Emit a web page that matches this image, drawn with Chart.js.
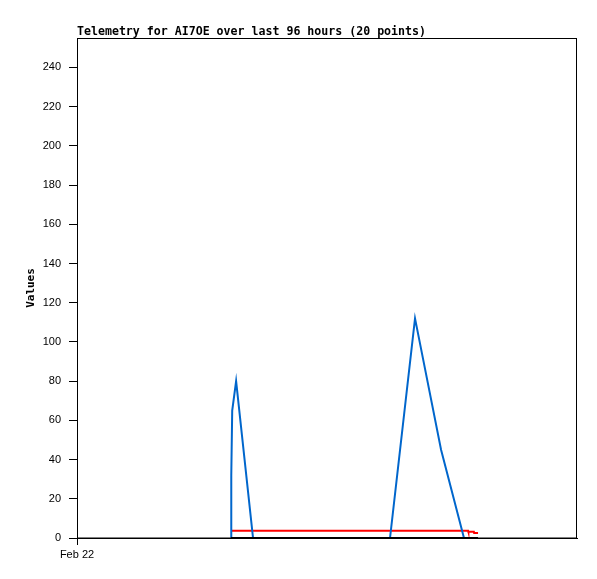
<!DOCTYPE html>
<html>
<head>
<meta charset="utf-8">
<script src="https://cdn.jsdelivr.net/npm/chart.js@4/dist/chart.umd.min.js"></script>
<style>
  html, body { margin: 0; padding: 0; background: #fff; }
  canvas { display: block; }
</style>
</head>
<body>
<canvas id="chart" width="597" height="579"></canvas>
<script>
// hours since Feb 22 00:00 (window is 96 hours)
const hours = [29.57, 29.62, 29.8, 30.55, 33.8, 37, 41, 45, 49, 53, 57, 60.1, 64.9, 69.9, 74.3, 75.1, 75.15, 76.2, 76.25, 77.0];
const blueValues = [0, 32, 65, 80, 0, 0, 0, 0, 0, 0, 0, 0, 112, 45, 0, 0, 0, 0, 0, 0];
const redValues = [3.7, 3.7, 3.7, 3.7, 3.7, 3.7, 3.7, 3.7, 3.7, 3.7, 3.7, 3.7, 3.7, 3.7, 3.7, 3.7, 3.2, 3.2, 2.6, 2.6];
const blackValues = [0, 0, 0, 0, 0, 0, 0, 0, 0, 0, 0, 0, 0, 0, 0, 0, 0, 0, 0, 0];
const yTicks = [0, 20, 40, 60, 80, 100, 120, 140, 160, 180, 200, 220, 240];
const xTicks = [0];
const xTickLabels = ['Feb 22'];
const titleText = 'Telemetry for AI7OE over last 96 hours (20 points)';

const toPoints = vals => vals.map((v, i) => ({ x: hours[i], y: v }));

// title sits at the left edge of the plot area, and the plot gets a full box
const frame = {
    id: 'frame',
    afterDraw(chart) {
        const { ctx, chartArea: a } = chart;
        ctx.save();
        ctx.strokeStyle = '#000';
        ctx.lineWidth = 1;
        ctx.strokeRect(a.left + 0.5, a.top + 0.5, a.right - a.left - 1, a.bottom - a.top - 0.5);
        ctx.fillStyle = '#000';
        ctx.font = 'bold 11.6px "DejaVu Sans Mono"';
        ctx.textBaseline = 'middle';
        ctx.textAlign = 'left';
        ctx.fillText(titleText, a.left, 31.5);
        ctx.restore();
    }
};

const line = (vals, color) => ({
    data: toPoints(vals),
    borderColor: color,
    borderWidth: 2,
    pointRadius: 0,
    tension: 0,
    fill: false
});

new Chart(document.getElementById('chart'), {
    type: 'line',
    data: {
        // first dataset is painted last (on top)
        datasets: [line(blackValues, '#000000'), line(blueValues, '#0066cc'), line(redValues, '#ff0000')]
    },
    options: {
        animation: false,
        responsive: false,
        devicePixelRatio: 1,
        layout: { padding: { left: 0, right: 20, top: 38, bottom: 0 } },
        plugins: { legend: { display: false }, tooltip: { enabled: false } },
        scales: {
            x: {
                type: 'linear',
                min: 0,
                max: 96,
                afterBuildTicks: s => { s.ticks = xTicks.map(v => ({ value: v })); },
                afterFit: s => { s.height = 41; },
                border: { display: true, color: '#000' },
                grid: { drawOnChartArea: false, drawTicks: true, tickLength: 7, color: '#000' },
                ticks: {
                    color: '#000',
                    font: { family: 'Liberation Sans', size: 11 },
                    padding: 3,
                    maxRotation: 0,
                    autoSkip: false,
                    callback: (v) => xTickLabels[xTicks.indexOf(v)] || ''
                }
            },
            y: {
                min: 0,
                max: 255,
                afterBuildTicks: s => { s.ticks = yTicks.map(v => ({ value: v })); },
                afterFit: s => { s.width = 77; },
                border: { display: true, color: '#000' },
                grid: { drawOnChartArea: false, drawTicks: true, tickLength: 8, color: '#000' },
                ticks: {
                    color: '#000',
                    font: { family: 'Liberation Sans', size: 11 },
                    padding: 8
                },
                title: {
                    display: true,
                    text: 'Values',
                    color: '#000',
                    font: { family: 'DejaVu Sans Mono', size: 11, weight: 'bold' },
                    padding: { top: 25, bottom: 0 }
                }
            }
        }
    },
    plugins: [frame]
});
</script>
</body>
</html>
